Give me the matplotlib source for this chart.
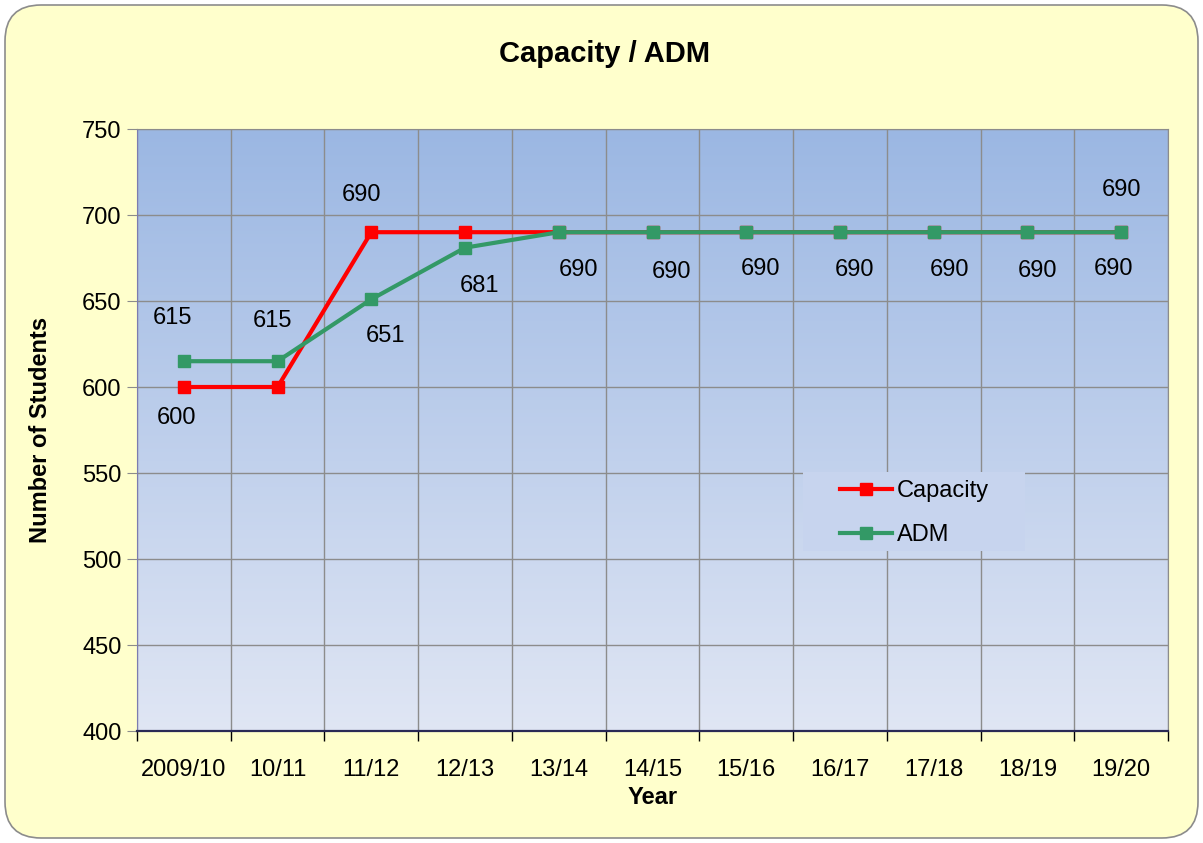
import numpy as np
import matplotlib.pyplot as plt
from matplotlib.patches import FancyBboxPatch, Rectangle

plt.rcParams['font.family'] = ['Liberation Sans', 'DejaVu Sans']

years = ['2009/10', '10/11', '11/12', '12/13', '13/14', '14/15', '15/16',
         '16/17', '17/18', '18/19', '19/20']
capacity = [600, 600, 690, 690, 690, 690, 690, 690, 690, 690, 690]
adm = [615, 615, 651, 681, 690, 690, 690, 690, 690, 690, 690]

# which points carry a label, and where (pixel offsets from the point)
cap_lab = {0: (-7, -31), 2: (-10, 37), 10: (0, 42)}
adm_lab = {0: (-11, 43), 1: (-5, 40), 2: (14, -37), 3: (14, -38), 4: (20, -38),
           5: (19, -40), 6: (14, -37), 7: (15, -38), 8: (16, -38),
           9: (10, -39), 10: (-8, -37)}

fig = plt.figure(figsize=(12.03, 8.43), dpi=100)
fig.patch.set_facecolor('white')
bg = FancyBboxPatch((5/1203, 5/843), 1193/1203, 833/843,
                    boxstyle='round,pad=0,rounding_size=0.03',
                    transform=fig.transFigure, facecolor='#FFFFCC',
                    edgecolor='#8C8C8C', linewidth=1.2,
                    mutation_aspect=1203/843, zorder=-10)
fig.patches.append(bg)

ax = fig.add_axes([137/1203, 1 - 731/843, 1031/1203, 602/843])
ax.set_axisbelow(True)
x = np.arange(len(years))

# gradient plot area
grad = np.linspace(0, 1, 256).reshape(-1, 1)
top = np.array([0.608, 0.718, 0.890])
bot = np.array([0.878, 0.902, 0.957])
img = bot + (top - bot) * grad[::-1, :, None] * np.ones((1, 2, 1))
ax.imshow(img, extent=[0, 1, 0, 1], transform=ax.transAxes, aspect='auto',
          zorder=0, interpolation='bilinear')

ax.set_xlim(-0.5, 10.5)
ax.set_ylim(400, 750)
ax.set_yticks(np.arange(400, 751, 50))
ax.set_xticks(x)
ax.set_xticklabels(years, fontsize=17)
ax.set_xticks(np.arange(-0.5, 10.6, 1), minor=True)
ax.tick_params(axis='x', which='major', length=0, pad=20)
ax.tick_params(axis='x', which='minor', length=7, color='black', width=1)
ax.tick_params(axis='y', labelsize=17, length=7, color='#8C8C8C', pad=4)
ax.grid(True, axis='y', color='#8C8C8C', linewidth=1)
ax.grid(True, axis='x', which='minor', color='#8C8C8C', linewidth=1)
for s in ['top', 'right']:
    ax.spines[s].set_color('#8C8C8C')
ax.spines['left'].set_color('#7C7CB0')
ax.spines['bottom'].set_color('#2A2A55')
ax.spines['bottom'].set_linewidth(1.6)

ax.plot(x, capacity, color='#FF0000', lw=3, marker='s', ms=9,
        label='Capacity', zorder=3)
ax.plot(x, adm, color='#339966', lw=3, marker='s', ms=9,
        label='ADM', zorder=4)

for i, (dx, dy) in cap_lab.items():
    ax.annotate(str(capacity[i]), (x[i], capacity[i]), xytext=(dx, dy),
                textcoords='offset pixels', ha='center', va='center',
                fontsize=17, zorder=5)
for i, (dx, dy) in adm_lab.items():
    ax.annotate(str(adm[i]), (x[i], adm[i]), xytext=(dx, dy),
                textcoords='offset pixels', ha='center', va='center',
                fontsize=17, zorder=5)

# legend box hides the grid behind it
ax.add_patch(Rectangle((666/1031, (731-551)/602), 222/1031, 79/602,
                       transform=ax.transAxes, facecolor='#C7D4EE',
                       edgecolor='none', zorder=1))
leg = ax.legend(loc='upper left', bbox_to_anchor=(703/1031, (731-480)/602),
                frameon=False, fontsize=17, handlelength=2.2,
                borderpad=0, labelspacing=0.95, handletextpad=0.2,
                borderaxespad=0)

ax.set_xlabel('Year', fontsize=17, fontweight='bold', labelpad=4)
ax.set_ylabel('Number of Students', fontsize=17, fontweight='bold',
              labelpad=22)
fig.text(605/1203, 1 - 54/843, 'Capacity / ADM', fontsize=21,
         fontweight='bold', ha='center', va='center')

fig.savefig('out.png', dpi=100, facecolor=fig.get_facecolor())
